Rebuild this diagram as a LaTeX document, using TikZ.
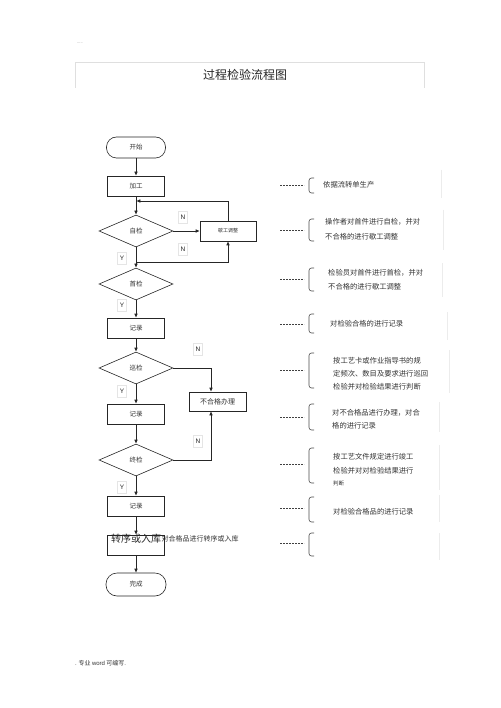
\documentclass[tikz,border=0pt]{standalone}
\usepackage{fontspec}
\newfontfamily\cjk{Noto Sans CJK SC}
\setsansfont{Liberation Sans}
\usetikzlibrary{shapes.geometric,arrows.meta}
\tikzset{
  base/.style={draw=black!85,line width=0.6pt,inner sep=0pt,font=\cjk\fontsize{6.5}{8}\selectfont,text=black!80},
  boxn/.style={base,minimum width=57pt,minimum height=20pt},
  stad/.style={base,minimum width=59pt,minimum height=21pt,rounded corners=10pt},
  dia/.style={base,diamond,aspect=2.3,minimum width=74pt,minimum height=32pt},
  arr/.style={draw=black!85,line width=0.6pt,-{Latex[length=4pt,width=3.6pt]}},
  ln/.style={draw=black!85,line width=0.6pt},
  yn/.style={draw=gray!20,line width=0.4pt,minimum width=9pt,minimum height=12pt,inner sep=0pt,font=\sffamily\fontsize{6.5}{7}\selectfont,text=black!85},
  rtext/.style={anchor=west,align=left,inner sep=0pt,font=\cjk\fontsize{7.3}{14}\selectfont,text=black!80},
  dsh/.style={draw=black!75,line width=0.5pt,dash pattern=on 1.6pt off 1.4pt},
  brk/.style={draw=black!70,line width=0.6pt,rounded corners=2.5pt},
  faint/.style={draw=gray!15,line width=0.4pt}
}
\begin{document}
\begin{tikzpicture}[x=1pt,y=-1pt]
\useasboundingbox (0,0) rectangle (500,708);
\fill[white] (0,0) rectangle (500,708);
% header
\node[font=\sffamily\fontsize{4}{4}\selectfont,text=gray] (dots) at (80,43) {.....};
\draw[draw=gray!25,line width=0.4pt] (75,88) -- (75,62) -- (424,62) -- (424,88);
\node[font=\cjk\fontsize{12}{14}\selectfont,text=black!85] (title) at (245,75) {过程检验流程图};
% main flow
\node[stad] (start) at (136,147.5) {开始};
\node[boxn] (jg) at (136,186) {加工};
\node[dia] (zj) at (136,231) {自检};
\node[base,minimum width=56pt,minimum height=20pt,font=\cjk\fontsize{5}{6}\selectfont] (fg) at (228,231) {歇工调整};
\node[dia] (sj) at (136,284) {首检};
\node[boxn] (jl1) at (136,328) {记录};
\node[dia] (xj) at (136,368) {巡检};
\node[base,minimum width=57pt,minimum height=19pt,font=\cjk\fontsize{7}{8}\selectfont] (bhg) at (217.5,401.5) {不合格办理};
\node[boxn] (jl2) at (136,414) {记录};
\node[dia] (zhj) at (136,460) {终检};
\node[boxn] (jl3) at (136,506) {记录};
\node[boxn] (zx) at (136,545) {};
\node[inner sep=0pt,font=\cjk\fontsize{10}{11}\selectfont,text=black!85,anchor=west] (zxt) at (111,538.5) {转序或入库};
\node[inner sep=0pt,font=\cjk\fontsize{7}{8}\selectfont,text=black!80,anchor=west] (zxt2) at (zxt.east) {对合格品进行转序或入库};
\node[stad,minimum width=60pt,minimum height=23pt,rounded corners=11pt] (wc) at (136,584.5) {完成};
% connectors
\draw[arr] (start) -- (jg);
\draw[arr] (jg) -- (zj);
\draw[arr] (zj) -- (sj);
\draw[arr] (sj) -- (jl1);
\draw[arr] (jl1) -- (xj);
\draw[arr] (xj) -- (jl2);
\draw[arr] (jl2) -- (zhj);
\draw[arr] (zhj) -- (jl3);
\draw[arr] (jl3) -- (zx);
\draw[arr] (zx) -- (wc);
\draw[arr] (zj.east) -- (fg.west);
\coordinate (loopin) at (136.3,201);
\draw[arr] (fg.north) |- (loopin);
\coordinate (split) at (136,262);
\draw[arr] (split) -| (fg.south);
\draw[arr] (xj.east) -| ([xshift=-6.5pt]bhg.north);
\draw[arr] (zhj.east) -| ([xshift=-6.5pt]bhg.south);
% Y/N labels
\node[yn] (n1) at (183,217) {N};
\node[yn] (n2) at (183,249) {N};
\node[yn] (y1) at (122,258) {Y};
\node[yn] (y2) at (122,305) {Y};
\node[yn] (n3) at (198,349) {N};
\node[yn] (y3) at (122,391) {Y};
\node[yn] (n4) at (198,441) {N};
\node[yn] (y4) at (122,487) {Y};
% right side annotations
\foreach \yd/\bt/\bb/\fx/\ft/\fb in {185/178/193/441/170/198, 230/219/241/443/210/250, 279/268/291/442/263/297, 324/314/333/447/312/340, 370/353/388/449/350/393, 417/404/430/439/402/432, 464/448/483/439/445/490, 508/497/522/439/495/522, 543/533/556/439/533/560}{
  \draw[dsh] (280,\yd) -- (304,\yd);
  \draw[brk] (314,\bt) -- (309,\bt) -- (309,\bb) -- (314,\bb);
  \draw[faint] (\fx,\ft) -- (\fx,\fb);
}
\node[rtext] (r1) at (323,185) {依据流转单生产};
\node[rtext,font=\cjk\fontsize{7.3}{15}\selectfont] (r2) at (325,229.5) {操作者对首件进行自检，并对\\不合格的进行歇工调整};
\node[rtext] (r3) at (328,280) {检验员对首件进行首检，并对\\不合格的进行歇工调整};
\node[rtext] (r4) at (330,324) {对检验合格的进行记录};
\node[rtext,font=\cjk\fontsize{7.3}{13}\selectfont] (r5) at (333,374) {按工艺卡或作业指导书的规\\定频次、数目及要求进行巡回\\检验并对检验结果进行判断};
\node[rtext,font=\cjk\fontsize{7.3}{13}\selectfont] (r6) at (332,419.5) {对不合格品进行办理，对合\\格的进行记录};
\node[rtext] (r7) at (333,463.5) {按工艺文件规定进行竣工\\检验并对对检验结果进行};
\node[rtext,font=\cjk\fontsize{5.5}{6}\selectfont] (r7b) at (333,483) {判断};
\node[rtext] (r8) at (333,512) {对检验合格品的进行记录};
% footer
\node[anchor=west,inner sep=0pt,font=\cjk\fontsize{6}{7}\selectfont,text=black!80] (foot) at (75,663) {. 专业 {\sffamily word} 可编写.};
\end{tikzpicture}
\end{document}
